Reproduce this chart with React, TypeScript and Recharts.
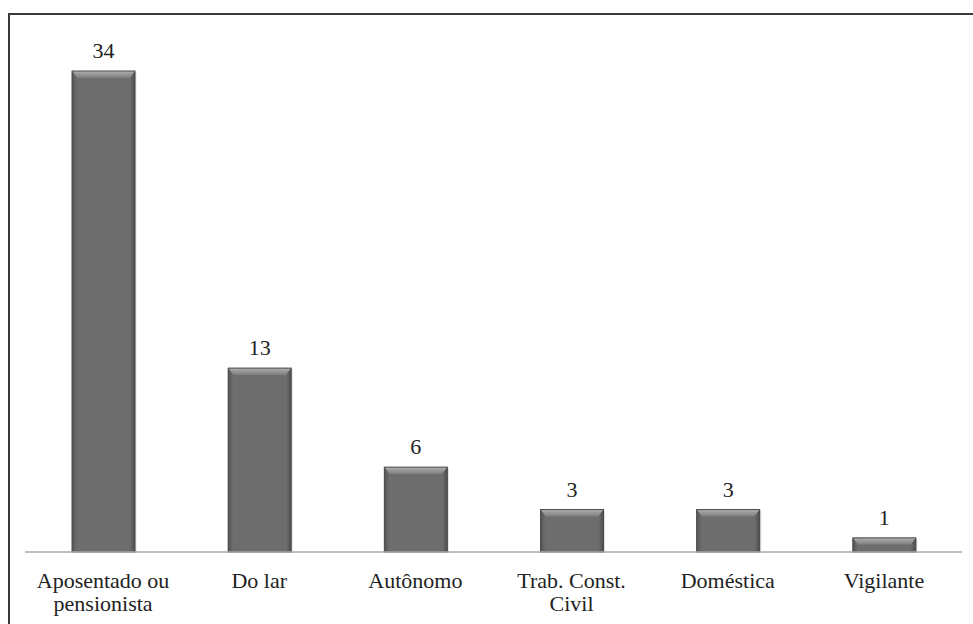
import React from "react";
import { BarChart, Bar, XAxis, YAxis, LabelList } from "recharts";

const categories = [
  "Aposentado ou\npensionista",
  "Do lar",
  "Autônomo",
  "Trab. Const.\nCivil",
  "Doméstica",
  "Vigilante",
];
const values = [34, 13, 6, 3, 3, 1];

const data = categories.map((c, i) => ({ name: c, value: values[i] }));

const FONT = "Liberation Serif";

const BevelBar = (props: any) => {
  const { x, y, width, height } = props;
  if (!height || height <= 0) return null;
  const b = Math.min(7, height / 2);
  const s = 5;
  return (
    <g>
      <rect x={x + 1.5} y={y + 1} width={width} height={height} fill="#c8c8c8" opacity={0.6} />
      <rect x={x} y={y} width={width} height={height} fill="#6d6d6d" />
      <polygon
        points={`${x},${y} ${x + width},${y} ${x + width - s},${y + b} ${x + s},${y + b}`}
        fill="url(#bevTop)"
      />
      <polygon
        points={`${x},${y} ${x + s},${y + b} ${x + s},${y + height} ${x},${y + height}`}
        fill="url(#bevLeft)"
      />
      <polygon
        points={`${x + width},${y} ${x + width - s},${y + b} ${x + width - s},${y + height} ${x + width},${y + height}`}
        fill="url(#bevRight)"
      />
      <rect x={x} y={y} width={width} height={height} fill="none" stroke="#4a4a4a" strokeWidth={1} />
    </g>
  );
};

const Tick = (props: any) => {
  const { x, y, payload } = props;
  const lines = String(payload.value).split("\n");
  return (
    <text
      x={x}
      y={y}
      textAnchor="middle"
      fontFamily={FONT}
      style={{ fontFamily: FONT, fontSize: 22, fill: "#222" }}
    >
      {lines.map((l, i) => (
        <tspan key={i} x={x} dy={i === 0 ? 28 : 23}>
          {l}
        </tspan>
      ))}
    </text>
  );
};

export default function App() {
  return (
    <div style={{ position: "absolute", left: 0, top: 0, width: 973, height: 624, overflow: "hidden", background: "#fff" }}>
      <div
        style={{
          position: "absolute",
          left: 8,
          top: 13,
          width: 1000,
          height: 700,
          borderTop: "2px solid #3a3a3a",
          borderLeft: "2px solid #3a3a3a",
        }}
      />
      <div style={{ position: "absolute", left: 0, top: 0, fontFamily: FONT }}>
        <BarChart
          width={973}
          height={624}
          data={data}
          margin={{ top: 71, right: 11, bottom: 0, left: 25 }}
          barSize={63}
        >
          <defs>
            <linearGradient id="bevTop" x1="0" y1="0" x2="0" y2="1">
              <stop offset="0%" stopColor="#b0b0b0" />
              <stop offset="100%" stopColor="#7c7c7c" />
            </linearGradient>
            <linearGradient id="bevLeft" x1="0" y1="0" x2="1" y2="0">
              <stop offset="0%" stopColor="#555" />
              <stop offset="100%" stopColor="#6d6d6d" />
            </linearGradient>
            <linearGradient id="bevRight" x1="0" y1="0" x2="1" y2="0">
              <stop offset="0%" stopColor="#6d6d6d" />
              <stop offset="100%" stopColor="#4e4e4e" />
            </linearGradient>
          </defs>
          <XAxis
            dataKey="name"
            interval={0}
            height={72}
            tickLine={false}
            axisLine={{ stroke: "#aaaaaa", strokeWidth: 1.5 }}
            tick={<Tick />}
          />
          <YAxis hide domain={[0, 34]} />
          <Bar dataKey="value" isAnimationActive={false} shape={<BevelBar />}>
            <LabelList
              dataKey="value"
              position="top"
              offset={13}
              style={{ fontFamily: FONT, fontSize: 22, fill: "#222" }}
            />
          </Bar>
        </BarChart>
      </div>
    </div>
  );
}
